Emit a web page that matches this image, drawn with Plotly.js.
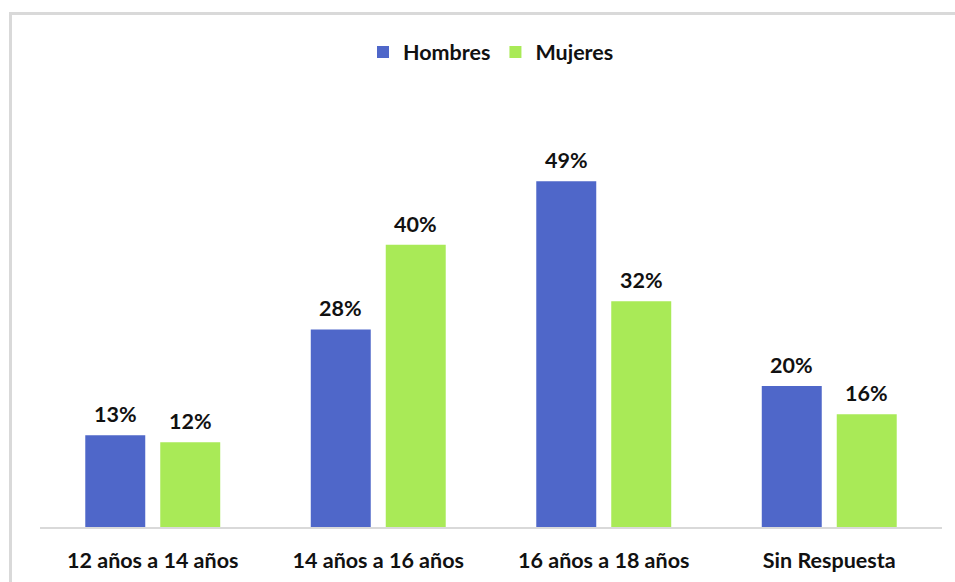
<!DOCTYPE html>
<html>
<head>
<meta charset="utf-8">
<script src="https://cdn.plot.ly/plotly-3.0.1.min.js"></script>
<style>
  html, body { margin: 0; padding: 0; background: #fff; }
  #wrap { position: relative; width: 955px; height: 582px; }
  #chart { position: absolute; left: 0; top: 0; width: 955px; height: 582px; }
  #frame { position: absolute; left: 9px; top: 12px; width: 946px; height: 570px;
           border-top: 3px solid #D9D9D9; border-left: 3px solid #D9D9D9;
           box-sizing: border-box; pointer-events: none; }
</style>
</head>
<body>
<div id="wrap"><div id="chart"></div><div id="frame"></div></div>
<script>
const categories = ["12 años a 14 años", "14 años a 16 años", "16 años a 18 años", "Sin Respuesta"];
const hombres = [13, 28, 49, 20];
const mujeres = [12, 40, 32, 16];
const seriesNames = ["Hombres", "Mujeres"];
const colors = ["#4F67C9", "#A9EA57"];

const FONT = "Lato, 'Open Sans', sans-serif";
const FS = 21.5;
const bargap = 0.335, bargroupgap = 0.2;
const slot = (1 - bargap) / 2;

const traces = [hombres, mujeres].map((vals, i) => ({
  type: "bar",
  name: seriesNames[i],
  x: categories,
  y: vals,
  marker: { color: colors[i] },
  hoverinfo: "none"
}));

const annotations = [];
[hombres, mujeres].forEach((vals, i) => {
  vals.forEach((v, j) => {
    annotations.push({
      x: j + (i === 0 ? -slot / 2 : slot / 2),
      y: v,
      xref: "x", yref: "y",
      text: "<b>" + v + "%</b>",
      showarrow: false,
      yanchor: "bottom",
      yshift: 6,
      font: { family: FONT, size: FS, color: "#111" }
    });
  });
});

const layout = {
  width: 955, height: 582,
  margin: { l: 40, r: 13, t: 139, b: 55 },
  paper_bgcolor: "#fff", plot_bgcolor: "#fff",
  barmode: "group",
  bargap: bargap, bargroupgap: bargroupgap,
  showlegend: true,
  legend: {
    orientation: "h", x: 0.5, xanchor: "center", xref: "paper",
    y: 1 - 52 / 582, yref: "container", yanchor: "middle",
    font: { family: FONT, size: FS, color: "#111", weight: "bold" },
    traceorder: "normal"
  },
  xaxis: {
    type: "category",
    showline: true, linecolor: "#D9D9D9", linewidth: 2,
    ticks: "outside", ticklen: 13, tickcolor: "rgba(0,0,0,0)",
    tickfont: { family: FONT, size: FS, color: "#111", weight: "bold" },
    showgrid: false, zeroline: false
  },
  yaxis: {
    range: [0, 55], visible: false, showgrid: false, zeroline: false
  },
  annotations: annotations
};

Plotly.newPlot("chart", traces, layout, { displayModeBar: false, staticPlot: true });
</script>
</body>
</html>
